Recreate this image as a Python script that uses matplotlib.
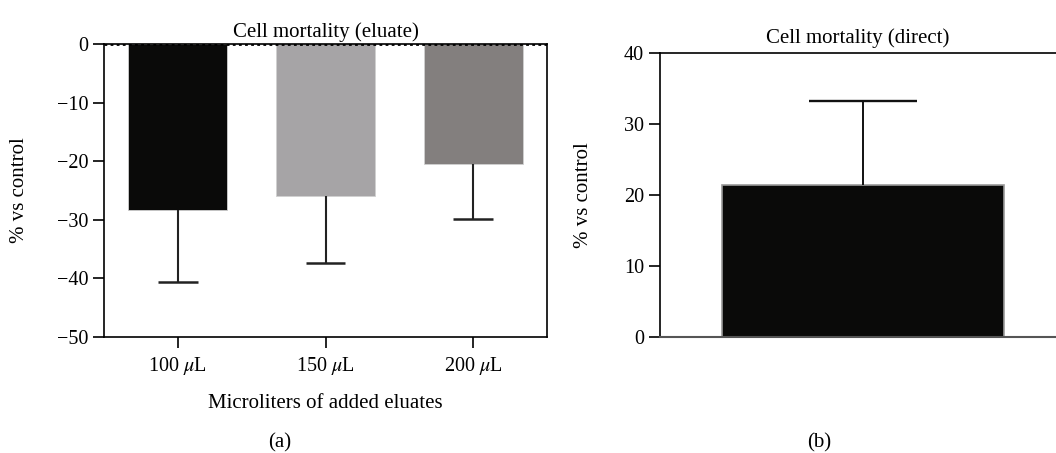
import numpy as np
import matplotlib
matplotlib.use('Agg')
import matplotlib.pyplot as plt

plt.rcParams['font.family'] = ['Liberation Serif', 'DejaVu Serif']
plt.rcParams['mathtext.fontset'] = 'stix'

# panel (a): eluate
eluate_labels = [r'100 $\mu$L', r'150 $\mu$L', r'200 $\mu$L']
eluate_means = [-28.3, -25.9, -20.4]
eluate_err = [12.3, 11.5, 9.5]
eluate_colors = ['#0a0a09', '#a6a4a6', '#837f7e']

# panel (b): direct
direct_mean = [21.4]
direct_err = [11.9]


def one_sided_err(ax, xs, means, errs, capw, color, lw):
    # whisker only away from zero, cap only at the far end
    for xi, m, e in zip(xs, means, errs):
        end = m - e if m < 0 else m + e
        ax.vlines(xi, m, end, color=color, linewidth=lw, zorder=3)
        ax.hlines(end, xi - capw / 2, xi + capw / 2, color=color, linewidth=lw + 0.3, zorder=3)


fig = plt.figure(figsize=(10.56, 4.53), dpi=100)

ax1 = fig.add_axes([0.0985, 0.2561, 0.4195, 0.6468])
x = np.arange(len(eluate_means))
ax1.bar(x, eluate_means, width=0.67, color=eluate_colors, edgecolor='#d0d0d0', linewidth=0.6, zorder=2)
one_sided_err(ax1, x, eluate_means, eluate_err, 0.27, '#222222', 1.5)
ax1.axhline(0, color='k', linestyle=(0, (1, 1.2)), linewidth=2, zorder=4)
ax1.set_xlim(-0.5, 2.5)
ax1.set_ylim(-50, 0)
ax1.set_yticks([0, -10, -20, -30, -40, -50])
ax1.set_yticklabels(['0', '\u221210', '\u221220', '\u221230', '\u221240', '\u221250'])
ax1.set_xticks(x)
ax1.set_xticklabels(eluate_labels)
ax1.set_title('Cell mortality (eluate)', fontsize=15, pad=5)
ax1.set_ylabel('% vs control', fontsize=15, labelpad=20)
ax1.set_xlabel('Microliters of added eluates', fontsize=15, labelpad=12)
ax1.tick_params(axis='both', labelsize=14.5, length=8, width=1.2, direction='out')
ax1.tick_params(axis='x', pad=5)
for s in ax1.spines.values():
    s.set_linewidth(1.2)

ax2 = fig.add_axes([0.625, 0.2561, 0.375, 0.627])
ax2.bar([0], direct_mean, width=1.0, color='#0a0a09', edgecolor='#999999', linewidth=1.2, zorder=2)
one_sided_err(ax2, [0], direct_mean, direct_err, 0.38, '#111111', 1.4)
ax2.set_xlim(-0.72, 0.684)
ax2.set_ylim(0, 40)
ax2.set_yticks([0, 10, 20, 30, 40])
ax2.set_xticks([])
ax2.spines['right'].set_visible(False)
ax2.spines['bottom'].set_color('#555555')
ax2.spines['bottom'].set_linewidth(1.5)
ax2.spines['left'].set_linewidth(1.2)
ax2.spines['top'].set_linewidth(1.2)
ax2.set_title('Cell mortality (direct)', fontsize=15, pad=7)
ax2.set_ylabel('% vs control', fontsize=15, labelpad=22)
ax2.tick_params(axis='y', labelsize=14.5, length=8, width=1.2, direction='out')

fig.text(0.2652, 0.022, '(a)', ha='center', va='center', fontsize=15)
fig.text(0.776, 0.022, '(b)', ha='center', va='center', fontsize=15)

fig.savefig('out.png', dpi=100)
